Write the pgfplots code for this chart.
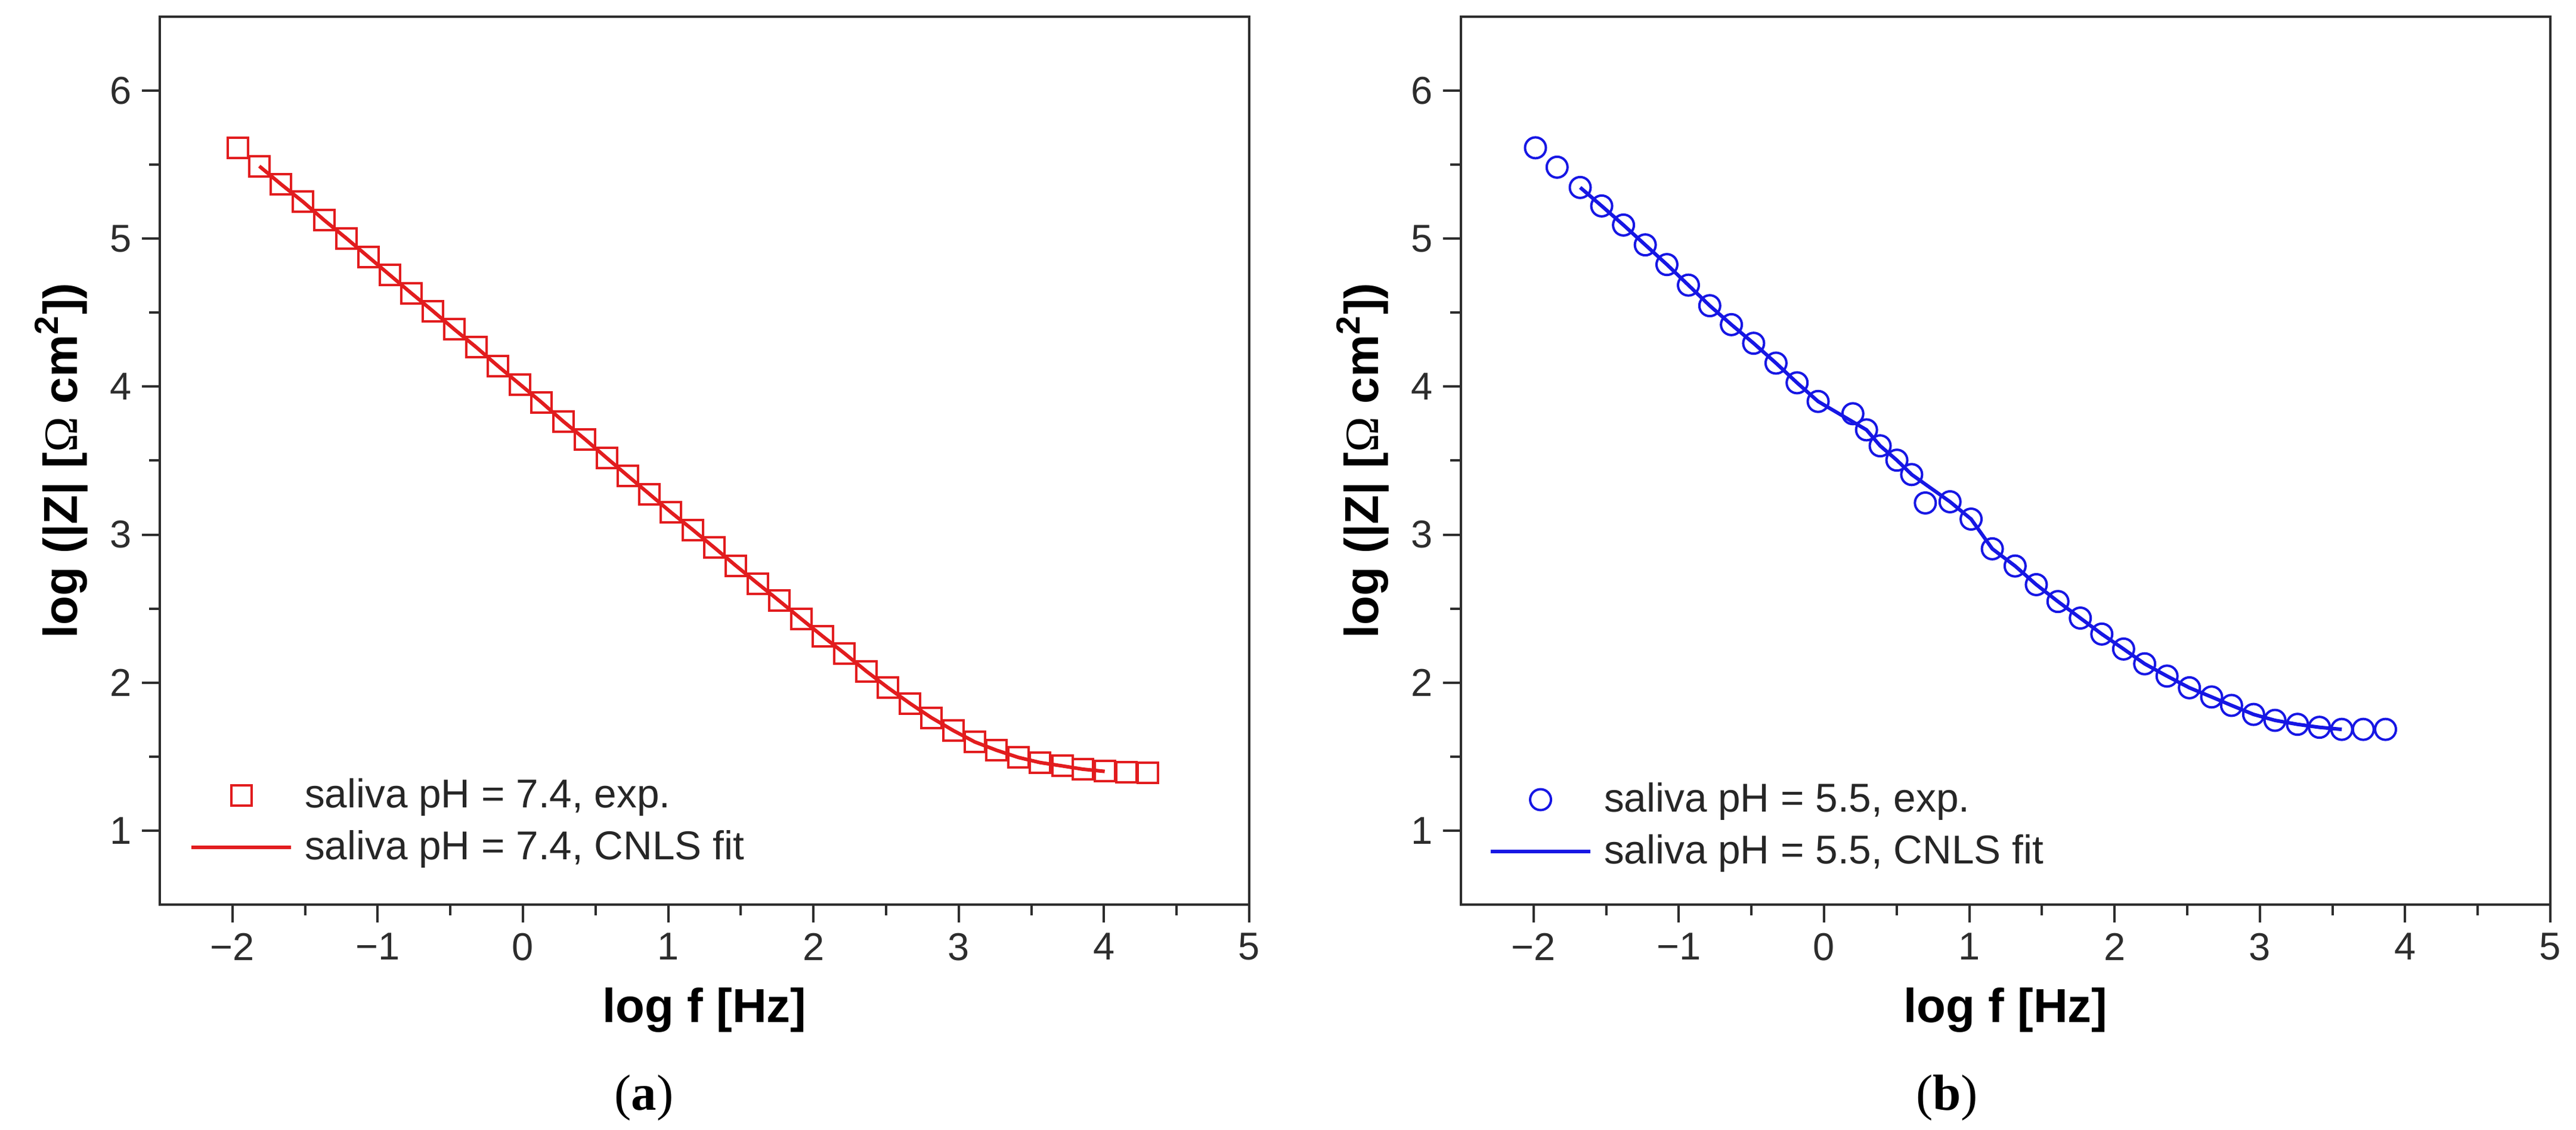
\documentclass[border=0pt]{standalone}
\usepackage{fontspec}
\setmainfont{Liberation Sans}
\newfontfamily\seriffont{Liberation Serif}
\usepackage{pgfplots}
\pgfplotsset{compat=1.18}
\definecolor{myred}{RGB}{226,28,30}
\definecolor{myblue}{RGB}{22,22,228}
\definecolor{axgray}{RGB}{45,45,45}

\pgfplotstableread{
x y
-1.962 5.612
-1.815 5.490
-1.667 5.369
-1.514 5.249
-1.367 5.124
-1.215 5.002
-1.064 4.877
-0.916 4.754
-0.769 4.632
-0.619 4.510
-0.472 4.387
-0.321 4.266
-0.173 4.140
-0.020 4.015
0.128 3.894
0.279 3.764
0.427 3.645
0.578 3.517
0.721 3.398
0.872 3.273
1.019 3.151
1.171 3.031
1.318 2.912
1.466 2.790
1.617 2.669
1.764 2.553
1.916 2.430
2.065 2.312
2.213 2.198
2.364 2.077
2.511 1.967
2.665 1.859
2.812 1.763
2.963 1.676
3.111 1.599
3.260 1.543
3.412 1.494
3.559 1.460
3.713 1.437
3.853 1.415
4.005 1.403
4.153 1.395
4.301 1.391
}\expA

\pgfplotstableread{
x y
-1.815 5.490
-1.667 5.369
-1.514 5.249
-1.367 5.124
-1.215 5.002
-1.064 4.877
-0.916 4.754
-0.769 4.632
-0.619 4.510
-0.472 4.387
-0.321 4.266
-0.173 4.140
-0.020 4.015
0.128 3.894
0.279 3.764
0.427 3.645
0.578 3.517
0.721 3.398
0.872 3.273
1.019 3.151
1.171 3.031
1.318 2.912
1.466 2.790
1.617 2.669
1.764 2.553
1.916 2.430
2.065 2.312
2.213 2.198
2.364 2.077
2.511 1.967
2.665 1.859
2.812 1.763
2.963 1.676
3.111 1.599
3.260 1.543
3.412 1.494
3.559 1.460
3.713 1.437
3.853 1.415
4.005 1.400
}\fitA

\pgfplotstableread{
x y
-1.987 5.614
-1.838 5.483
-1.679 5.346
-1.531 5.221
-1.381 5.092
-1.231 4.958
-1.082 4.825
-0.934 4.686
-0.787 4.547
-0.638 4.419
-0.485 4.293
-0.331 4.159
-0.186 4.026
-0.041 3.900
0.198 3.817
0.292 3.708
0.386 3.600
0.501 3.503
0.603 3.406
0.697 3.214
0.867 3.222
1.012 3.105
1.158 2.904
1.315 2.788
1.461 2.662
1.610 2.548
1.764 2.436
1.912 2.328
2.062 2.227
2.207 2.127
2.361 2.044
2.515 1.965
2.668 1.903
2.805 1.846
2.957 1.785
3.104 1.745
3.259 1.718
3.410 1.698
3.564 1.684
3.712 1.684
3.865 1.684
}\expB

\pgfplotstableread{
x y
-1.679 5.346
-1.531 5.221
-1.381 5.092
-1.231 4.958
-1.082 4.825
-0.934 4.686
-0.787 4.547
-0.638 4.419
-0.485 4.293
-0.331 4.159
-0.186 4.026
-0.041 3.900
0.292 3.708
0.386 3.600
0.501 3.503
0.603 3.406
0.867 3.222
1.012 3.105
1.158 2.904
1.315 2.788
1.461 2.662
1.610 2.548
1.764 2.436
1.912 2.328
2.062 2.227
2.207 2.127
2.361 2.044
2.515 1.965
2.668 1.903
2.805 1.846
2.957 1.785
3.104 1.745
3.259 1.718
3.410 1.698
3.564 1.684
}\fitB

\pgfplotsset{
  myaxis/.style={
    scale only axis, width=365.4pt, height=297.8pt,
    anchor=south west,
    xmin=-2.5, xmax=5, ymin=0.5, ymax=6.5,
    xtick={-2,-1,0,1,2,3,4,5}, xticklabels={−2,−1,0,1,2,3,4,5},
    ytick={1,2,3,4,5,6}, yticklabels={1,2,3,4,5,6},
    minor x tick num=1, minor y tick num=1,
    tick pos=left, tick align=outside,
    major tick length=6pt, minor tick length=3.6pt,
    axis line style={line width=0.8pt, axgray},
    every tick/.style={line width=0.8pt, axgray},
    tick label style={font=\fontsize{13}{15}\selectfont, text=axgray},
    xlabel={log f [Hz]},
    ylabel={log (|Z| [{\mdseries\seriffont Ω} cm\textsuperscript{2}])},
    every axis x label/.style={at={(axis description cs:0.5,0)}, yshift=-35.5pt, anchor=center,
      font=\fontsize{16}{19}\selectfont\bfseries, text=black},
    every axis y label/.style={at={(axis description cs:0,0.5)}, xshift=-33pt, rotate=90, anchor=center,
      font=\fontsize{16}{19}\selectfont\bfseries, text=black},
    legend cell align=left,
    legend image code/.code={\draw[##1, mark repeat=2, mark phase=2] plot coordinates {(0pt,4pt) (16.7pt,4pt) (33.4pt,4pt)};},
    legend style={draw=none, fill=none, inner sep=0pt, outer sep=0pt,
      font=\fontsize{13.5}{16}\selectfont, text=black!85,
      row sep=4.4pt,
      nodes={inner sep=0pt, text height=10pt, text depth=3pt, anchor=base west},
      /tikz/every odd column/.style={column sep=4pt}},
  }
}

\begin{document}
\begin{tikzpicture}
\useasboundingbox (0,0) rectangle (864pt,379pt);
\begin{axis}[myaxis, at={(53.6pt,75.6pt)},
  legend style={at={(axis cs:-2.294,1.357)}, anchor=north west}]
\addplot[only marks, mark=square, mark size=3.4pt, mark options={myred, line width=0.8pt, fill=none}] table[x=x,y=y] {\expA};
\addlegendentry{saliva pH = 7.4, exp.}
\addplot[no marks, myred, line width=1.2pt] table[x=x,y=y] {\fitA};
\addlegendentry{saliva pH = 7.4, CNLS fit}
\end{axis}
\begin{axis}[myaxis, at={(490pt,75.6pt)},
  legend style={at={(axis cs:-2.307,1.33)}, anchor=north west}]
\addplot[only marks, mark=o, mark size=3.5pt, mark options={myblue, line width=0.8pt, fill=none}] table[x=x,y=y] {\expB};
\addlegendentry{saliva pH = 5.5, exp.}
\addplot[no marks, myblue, line width=1.2pt] table[x=x,y=y] {\fitB};
\addlegendentry{saliva pH = 5.5, CNLS fit}
\end{axis}
\node[font=\seriffont\fontsize{17}{20}\selectfont] at (216pt,10.8pt) {(\textbf{a})};
\node[font=\seriffont\fontsize{17}{20}\selectfont] at (653pt,10.8pt) {(\textbf{b})};
\end{tikzpicture}
\end{document}
